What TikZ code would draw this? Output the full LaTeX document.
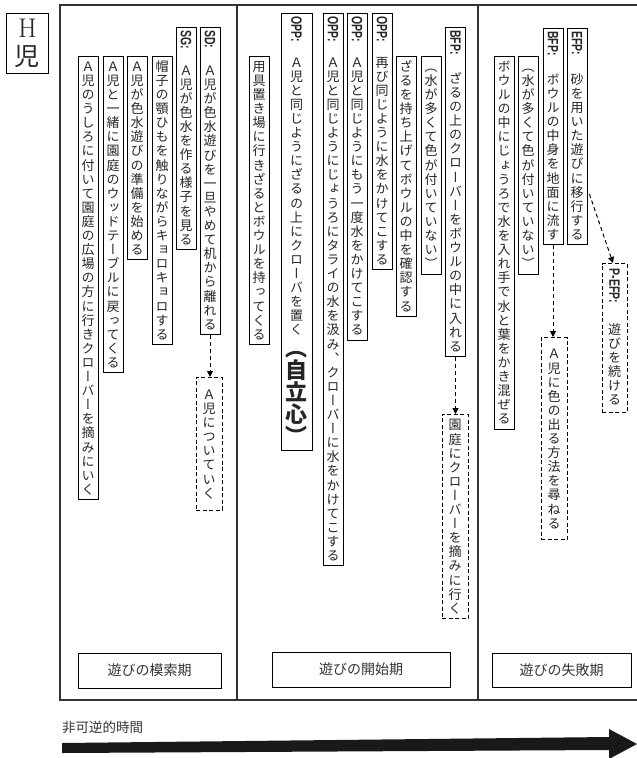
\documentclass[tikz,border=0pt]{standalone}
\usepackage{fontspec}
\usepackage{graphicx}
\usetikzlibrary{arrows.meta}
\newfontfamily\jpv{Noto Sans CJK JP}[RawFeature=+vert]
\newfontfamily\jp{Noto Sans CJK JP}
\newfontfamily\labfam{Liberation Sans}
\newdimen\cellw \cellw=14pt
\newdimen\vpitch \vpitch=14.1pt
\newdimen\vraise \vraise=2.11pt
\newcommand\vcell[1]{\hbox to\cellw{\vrule height\vpitch depth0pt width0pt\hss\raise\vraise\hbox{\smash{#1}}\hss}}
\newcommand\vlab[1]{\hbox to\cellw{\hss\rotatebox{-90}{\scalebox{0.7}[1]{\labfam\bfseries\fontsize{15}{15}\selectfont #1}}\hss}}
\ExplSyntaxOn
\NewDocumentCommand\vchars{m}{\tl_map_function:nN{#1}\vcell}
\ExplSyntaxOff
\newcommand\vcol[3]{\vbox{\offinterlineskip\vlab{#1}\kern#2\vchars{#3}}}
\newcommand\vplain[1]{\vbox{\offinterlineskip\vchars{#1}}}
\begin{document}
\begin{tikzpicture}[x=1pt,y=-1pt,
  vb/.style={draw=black, line width=0.8pt, inner xsep=3pt, inner ysep=3pt, anchor=north,
    font=\jpv\fontsize{13}{14}\selectfont, text=black!85},
  vd/.style={vb, dash pattern=on 4pt off 2.5pt, line width=1pt, inner xsep=6pt},
  frame/.style={draw=black!80, line width=1.5pt},
  phase/.style={draw=black, line width=0.8pt, inner sep=0pt, minimum height=35pt,
    font=\jp\fontsize{14}{14}\selectfont, text=black!80},
  conn/.style={draw=black, line width=1pt, dash pattern=on 4pt off 3pt,
    -{Triangle[length=6pt,width=6pt]}}]
\useasboundingbox (0,0) rectangle (637,758);
\fill[white] (0,0) rectangle (637,758);
% frame
\draw[frame] (640,5) -- (60,5) -- (60,700) -- (640,700);
\draw[frame] (237,5) -- (237,700);
\draw[frame] (478,5) -- (478,700);
% H child
\node[draw=black, line width=0.8pt, minimum width=42pt, minimum height=60pt, anchor=north west,
  inner sep=0pt, align=center, font=\fontsize{27}{28}\selectfont, text=black!85] (hc) at (6,13)
  {H\\{\jp\fontsize{25}{28}\selectfont 児}};
% column 1
\node[vb] (c1a) at (88,56) {\vplain{Ａ児のうしろに付いて園庭の広場の方に行きクローバーを摘みにいく}};
\node[vb] (c1b) at (113,56) {\vplain{Ａ児と一緒に園庭のウッドテーブルに戻ってくる}};
\node[vb] (c1c) at (137,56) {\vplain{Ａ児が色水遊びの準備を始める}};
\node[vb] (c1d) at (162,56) {\vplain{帽子の顎ひもを触りながらキョロキョロする}};
\node[vb] (sg) at (186,27) {\vcol{SG:}{14pt}{Ａ児が色水を作る様子を見る}};
\node[vb] (sd) at (210,27) {\vcol{SD:}{15pt}{Ａ児が色水遊びを一旦やめて机から離れる}};
\node[vd, inner ysep=10pt] (follow) at (209,377) {\vplain{Ａ児についていく}};
\draw[conn] (sd.south) -- (sd.south |- follow.north);
% column 2
\node[vb] (c2a) at (259,56) {\vplain{用具置き場に行きざるとボウルを持ってくる}};
\node[vb] (opp1) at (296.5,13) {\cellw=25pt\vbox{\offinterlineskip\vlab{OPP:}\kern13pt
  \vchars{Ａ児と同じようにざるの上にクローバを置く}%
  {\bfseries\fontsize{22}{22}\selectfont\vpitch=22pt\vraise=2.64pt\vchars{（自立心）}}}};
\node[vb] (opp2) at (333,13) {\vcol{OPP:}{13pt}{Ａ児と同じようにじょうろにタライの水を汲み、クローバーに水をかけてこする}};
\node[vb] (opp3) at (357,13) {\vcol{OPP:}{13pt}{Ａ児と同じようにもう一度水をかけてこする}};
\node[vb] (opp4) at (382,13) {\vcol{OPP:}{13pt}{再び同じように水をかけてこする}};
\node[vb] (c2f) at (406,56) {\vplain{ざるを持ち上げてボウルの中を確認する}};
\node[vb] (c2g) at (431,56) {\vplain{（水が多くて色が付いていない）}};
\node[vb] (bfp1) at (455.5,27) {\vcol{BFP:}{16.5pt}{ざるの上のクローバーをボウルの中に入れる}};
\node[vd, inner ysep=3.5pt] (garden) at (455,414) {\vplain{園庭にクローバーを摘みに行く}};
\draw[conn] (bfp1.south) -- (bfp1.south |- garden.north);
% column 3
\node[vb] (c3a) at (504,56) {\vplain{ボウルの中にじょうろで水を入れ手で水と葉をかき混ぜる}};
\node[vb] (c3b) at (528,56) {\vplain{（水が多くて色が付いていない）}};
\node[vb] (bfp2) at (553,28) {\vcol{BFP:}{16.5pt}{ボウルの中身を地面に流す}};
\node[vb] (efp) at (577,28) {\vcol{EFP:}{17pt}{砂を用いた遊びに移行する}};
\node[vd, inner ysep=9.5pt] (ask) at (554,337) {\vplain{Ａ児に色の出る方法を尋ねる}};
\node[vd, inner ysep=5pt, inner xsep=5.5pt] (pefp) at (614.5,263) {\vcol{P-EFP:}{19.5pt}{遊びを続ける}};
\draw[conn] (bfp2.south) -- (bfp2.south |- ask.north);
\draw[conn] ([xshift=2pt,yshift=51pt]efp.south east) -- ([xshift=-1.5pt]pefp.north);
% phases
\node[phase, minimum width=143pt] (ph1) at (149.5,670.5) {遊びの模索期};
\node[phase, minimum width=178pt] (ph2) at (361,669.5) {遊びの開始期};
\node[phase, minimum width=139pt, minimum height=34pt] (ph3) at (561.5,670) {遊びの失敗期};
% time arrow
\node[anchor=west, inner sep=0pt, font=\jp\fontsize{13.5}{14}\selectfont, text=black!80] (tl) at (62,727) {非可逆的時間};
\fill[black!90] (62,743) -- (609,737) -- (609,729) -- (637,744) -- (609,759) -- (609,750) -- (62,753) -- cycle;
\end{tikzpicture}
\end{document}
